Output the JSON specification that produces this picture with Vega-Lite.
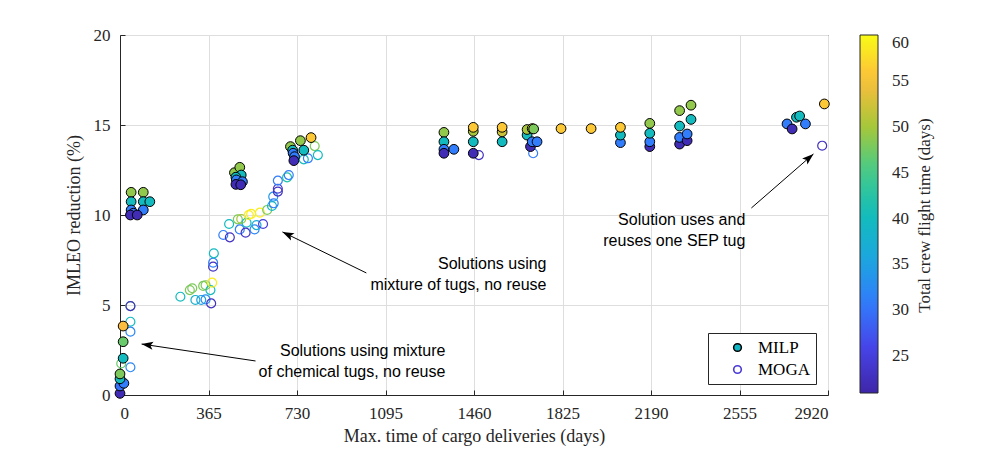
{
  "$schema": "https://vega.github.io/schema/vega-lite/v6.json",
  "width": 708,
  "height": 360,
  "autosize": "none",
  "padding": {"left": 120, "top": 35, "right": 172, "bottom": 55},
  "background": "white",
  "datasets": {
    "pts": [
      {"method": "MOGA", "days": 43, "imleo": 4.94, "crew": 47},
      {"method": "MOGA", "days": 43, "imleo": 4.94, "crew": 23},
      {"method": "MOGA", "days": 43, "imleo": 4.07, "crew": 40},
      {"method": "MOGA", "days": 43, "imleo": 3.52, "crew": 32},
      {"method": "MOGA", "days": 43, "imleo": 1.54, "crew": 32},
      {"method": "MOGA", "days": 5, "imleo": 1.75, "crew": 47},
      {"method": "MOGA", "days": 249, "imleo": 5.46, "crew": 40},
      {"method": "MOGA", "days": 288, "imleo": 5.83, "crew": 48},
      {"method": "MOGA", "days": 298, "imleo": 5.93, "crew": 48},
      {"method": "MOGA", "days": 343, "imleo": 6.06, "crew": 48},
      {"method": "MOGA", "days": 353, "imleo": 6.1, "crew": 48},
      {"method": "MOGA", "days": 311, "imleo": 5.28, "crew": 38},
      {"method": "MOGA", "days": 335, "imleo": 5.28, "crew": 35},
      {"method": "MOGA", "days": 353, "imleo": 5.31, "crew": 33},
      {"method": "MOGA", "days": 376, "imleo": 5.09, "crew": 23},
      {"method": "MOGA", "days": 373, "imleo": 5.83, "crew": 40},
      {"method": "MOGA", "days": 380, "imleo": 6.24, "crew": 59},
      {"method": "MOGA", "days": 384, "imleo": 7.13, "crew": 23},
      {"method": "MOGA", "days": 384, "imleo": 7.35, "crew": 31},
      {"method": "MOGA", "days": 387, "imleo": 7.87, "crew": 40},
      {"method": "MOGA", "days": 426, "imleo": 8.89, "crew": 31},
      {"method": "MOGA", "days": 453, "imleo": 8.76, "crew": 23},
      {"method": "MOGA", "days": 450, "imleo": 9.5, "crew": 40},
      {"method": "MOGA", "days": 486, "imleo": 9.76, "crew": 48},
      {"method": "MOGA", "days": 500, "imleo": 9.78, "crew": 50},
      {"method": "MOGA", "days": 494, "imleo": 9.2, "crew": 31},
      {"method": "MOGA", "days": 522, "imleo": 9.57, "crew": 40},
      {"method": "MOGA", "days": 518, "imleo": 9.02, "crew": 23},
      {"method": "MOGA", "days": 531, "imleo": 10.0, "crew": 59},
      {"method": "MOGA", "days": 541, "imleo": 10.06, "crew": 59},
      {"method": "MOGA", "days": 555, "imleo": 9.2, "crew": 32},
      {"method": "MOGA", "days": 563, "imleo": 9.44, "crew": 37},
      {"method": "MOGA", "days": 590, "imleo": 9.5, "crew": 25},
      {"method": "MOGA", "days": 577, "imleo": 10.13, "crew": 59},
      {"method": "MOGA", "days": 607, "imleo": 10.28, "crew": 48},
      {"method": "MOGA", "days": 627, "imleo": 10.5, "crew": 40},
      {"method": "MOGA", "days": 634, "imleo": 10.65, "crew": 31},
      {"method": "MOGA", "days": 632, "imleo": 11.02, "crew": 34},
      {"method": "MOGA", "days": 651, "imleo": 11.3, "crew": 23},
      {"method": "MOGA", "days": 651, "imleo": 11.46, "crew": 24},
      {"method": "MOGA", "days": 651, "imleo": 11.91, "crew": 31},
      {"method": "MOGA", "days": 689, "imleo": 12.09, "crew": 42},
      {"method": "MOGA", "days": 696, "imleo": 12.22, "crew": 31},
      {"method": "MOGA", "days": 803, "imleo": 13.83, "crew": 48},
      {"method": "MOGA", "days": 816, "imleo": 13.33, "crew": 40},
      {"method": "MOGA", "days": 758, "imleo": 13.09, "crew": 40},
      {"method": "MOGA", "days": 775, "imleo": 13.15, "crew": 31},
      {"method": "MOGA", "days": 1480, "imleo": 13.33, "crew": 23},
      {"method": "MOGA", "days": 1704, "imleo": 13.43, "crew": 31},
      {"method": "MOGA", "days": 2896, "imleo": 13.85, "crew": 23},
      {"method": "MILP", "days": 0, "imleo": 0.09, "crew": 22},
      {"method": "MILP", "days": 0, "imleo": 0.5, "crew": 30},
      {"method": "MILP", "days": 16, "imleo": 0.65, "crew": 31},
      {"method": "MILP", "days": 0, "imleo": 0.9, "crew": 40},
      {"method": "MILP", "days": 0, "imleo": 1.17, "crew": 48},
      {"method": "MILP", "days": 13, "imleo": 2.04, "crew": 40},
      {"method": "MILP", "days": 13, "imleo": 2.96, "crew": 47},
      {"method": "MILP", "days": 13, "imleo": 3.83, "crew": 55},
      {"method": "MILP", "days": 46, "imleo": 11.26, "crew": 49},
      {"method": "MILP", "days": 96, "imleo": 11.26, "crew": 49},
      {"method": "MILP", "days": 46, "imleo": 10.74, "crew": 40},
      {"method": "MILP", "days": 96, "imleo": 10.74, "crew": 40},
      {"method": "MILP", "days": 123, "imleo": 10.74, "crew": 40},
      {"method": "MILP", "days": 46, "imleo": 10.28, "crew": 31},
      {"method": "MILP", "days": 96, "imleo": 10.28, "crew": 31},
      {"method": "MILP", "days": 55, "imleo": 10.1, "crew": 30},
      {"method": "MILP", "days": 43, "imleo": 10.0, "crew": 22},
      {"method": "MILP", "days": 71, "imleo": 10.0, "crew": 22},
      {"method": "MILP", "days": 472, "imleo": 12.35, "crew": 49},
      {"method": "MILP", "days": 494, "imleo": 12.65, "crew": 49},
      {"method": "MILP", "days": 500, "imleo": 12.22, "crew": 40},
      {"method": "MILP", "days": 478, "imleo": 12.1, "crew": 40},
      {"method": "MILP", "days": 480, "imleo": 11.95, "crew": 31},
      {"method": "MILP", "days": 505, "imleo": 11.85, "crew": 31},
      {"method": "MILP", "days": 478, "imleo": 11.7, "crew": 22},
      {"method": "MILP", "days": 498, "imleo": 11.68, "crew": 22},
      {"method": "MILP", "days": 703, "imleo": 13.8, "crew": 49},
      {"method": "MILP", "days": 744, "imleo": 14.13, "crew": 49},
      {"method": "MILP", "days": 788, "imleo": 14.3, "crew": 56},
      {"method": "MILP", "days": 758, "imleo": 13.6, "crew": 40},
      {"method": "MILP", "days": 712, "imleo": 13.6, "crew": 40},
      {"method": "MILP", "days": 714, "imleo": 13.43, "crew": 31},
      {"method": "MILP", "days": 720, "imleo": 13.24, "crew": 31},
      {"method": "MILP", "days": 717, "imleo": 13.02, "crew": 22},
      {"method": "MILP", "days": 1336, "imleo": 14.59, "crew": 49},
      {"method": "MILP", "days": 1336, "imleo": 14.07, "crew": 40},
      {"method": "MILP", "days": 1336, "imleo": 13.65, "crew": 31},
      {"method": "MILP", "days": 1336, "imleo": 13.43, "crew": 22},
      {"method": "MILP", "days": 1377, "imleo": 13.65, "crew": 31},
      {"method": "MILP", "days": 1457, "imleo": 14.65, "crew": 50},
      {"method": "MILP", "days": 1457, "imleo": 14.87, "crew": 56},
      {"method": "MILP", "days": 1457, "imleo": 14.07, "crew": 40},
      {"method": "MILP", "days": 1457, "imleo": 13.43, "crew": 22},
      {"method": "MILP", "days": 1576, "imleo": 14.62, "crew": 52},
      {"method": "MILP", "days": 1576, "imleo": 14.87, "crew": 56},
      {"method": "MILP", "days": 1576, "imleo": 14.07, "crew": 40},
      {"method": "MILP", "days": 1679, "imleo": 14.44, "crew": 40},
      {"method": "MILP", "days": 1679, "imleo": 14.75, "crew": 50},
      {"method": "MILP", "days": 1700, "imleo": 14.8, "crew": 53},
      {"method": "MILP", "days": 1706, "imleo": 14.78, "crew": 48},
      {"method": "MILP", "days": 1693, "imleo": 13.8, "crew": 22},
      {"method": "MILP", "days": 1700, "imleo": 14.07, "crew": 31},
      {"method": "MILP", "days": 1720, "imleo": 14.07, "crew": 31},
      {"method": "MILP", "days": 1819, "imleo": 14.8, "crew": 56},
      {"method": "MILP", "days": 1943, "imleo": 14.8, "crew": 56},
      {"method": "MILP", "days": 2064, "imleo": 14.02, "crew": 31},
      {"method": "MILP", "days": 2064, "imleo": 14.44, "crew": 40},
      {"method": "MILP", "days": 2064, "imleo": 14.87, "crew": 56},
      {"method": "MILP", "days": 2185, "imleo": 13.8, "crew": 22},
      {"method": "MILP", "days": 2185, "imleo": 14.07, "crew": 31},
      {"method": "MILP", "days": 2185, "imleo": 14.54, "crew": 40},
      {"method": "MILP", "days": 2185, "imleo": 15.09, "crew": 49},
      {"method": "MILP", "days": 2308, "imleo": 13.94, "crew": 22},
      {"method": "MILP", "days": 2308, "imleo": 14.31, "crew": 31},
      {"method": "MILP", "days": 2308, "imleo": 14.94, "crew": 40},
      {"method": "MILP", "days": 2308, "imleo": 15.8, "crew": 49},
      {"method": "MILP", "days": 2339, "imleo": 14.13, "crew": 22},
      {"method": "MILP", "days": 2339, "imleo": 14.5, "crew": 31},
      {"method": "MILP", "days": 2355, "imleo": 15.31, "crew": 40},
      {"method": "MILP", "days": 2355, "imleo": 16.1, "crew": 49},
      {"method": "MILP", "days": 2751, "imleo": 15.06, "crew": 31},
      {"method": "MILP", "days": 2772, "imleo": 14.78, "crew": 22},
      {"method": "MILP", "days": 2790, "imleo": 15.43, "crew": 40},
      {"method": "MILP", "days": 2803, "imleo": 15.5, "crew": 40},
      {"method": "MILP", "days": 2827, "imleo": 15.06, "crew": 31},
      {"method": "MILP", "days": 2905, "imleo": 16.17, "crew": 56}
    ],
    "keys": [
      {"method": "MILP", "days": 2500, "imleo": 3},
      {"method": "MOGA", "days": 2500, "imleo": 2}
    ],
    "notes": [
      {"x": 1342, "y": 2.17, "label": "Solutions using mixture\nof chemical tugs, no reuse"},
      {"x": 1759, "y": 7.0, "label": "Solutions using\nmixture of tugs, no reuse"},
      {"x": 2579, "y": 9.44, "label": "Solution uses and\nreuses one SEP tug"}
    ],
    "arrows": [
      {"tx": 559, "ty": 1.89, "hx": 89, "hy": 2.83, "angle": 278.5},
      {"tx": 1016, "ty": 6.78, "hx": 670, "hy": 9.06, "angle": 296},
      {"tx": 2604, "ty": 10.39, "hx": 2860, "hy": 13.39, "angle": 49}
    ]
  },
  "layer": [
    {
      "layer": [
        {
          "data": {"name": "pts"},
          "transform": [{"filter": "datum.method === 'MOGA'"}],
          "mark": {"type": "point", "filled": false, "strokeWidth": 1.2, "size": 80, "opacity": 1},
          "encoding": {
            "x": {"field": "days", "type": "quantitative", "scale": {"domain": [0, 2920], "nice": false, "zero": false},
              "axis": {"values": [0, 365, 730, 1095, 1460, 1825, 2190, 2555, 2920], "format": "d", "title": "Max. time of cargo deliveries (days)", "titlePadding": 6}},
            "y": {"field": "imleo", "type": "quantitative", "scale": {"domain": [0, 20], "nice": false, "zero": false},
              "axis": {"values": [0, 5, 10, 15, 20], "title": "IMLEO reduction (%)", "titlePadding": 10}},
            "color": {"field": "crew", "type": "quantitative", "legend": null,
              "scale": {"domain": [20.999, 60], "interpolate": "rgb", "range": ["#3E26A8", "#4743E7", "#327BFC", "#1CA6DF", "#12BDBA", "#48CB86", "#ABC737", "#FDBD3D", "#F9FB15"]}}
          }
        },
        {
          "data": {"name": "pts"},
          "transform": [{"filter": "datum.method === 'MILP'"}],
          "mark": {"type": "point", "filled": true, "stroke": "#000000", "strokeWidth": 1, "size": 95, "opacity": 1},
          "encoding": {
            "x": {"field": "days", "type": "quantitative"},
            "y": {"field": "imleo", "type": "quantitative"},
            "fill": {"field": "crew", "type": "quantitative",
              "scale": {"domain": [21, 60], "interpolate": "rgb", "range": ["#3E26A8", "#4743E7", "#327BFC", "#1CA6DF", "#12BDBA", "#48CB86", "#ABC737", "#FDBD3D", "#F9FB15"]},
              "legend": {
                "type": "gradient", "direction": "vertical", "orient": "none", "legendX": 740, "legendY": 0,
                "gradientLength": 358, "gradientThickness": 18,
                "gradientStrokeColor": "#262626", "gradientStrokeWidth": 1,
                "values": [25, 30, 35, 40, 45, 50, 55, 60],
                "labelFont": "Liberation Serif", "labelFontSize": 17, "labelColor": "#262626", "labelOffset": 14,
                "labelBaseline": "middle",
                "title": null
              }}
          }
        },
        {
          "data": {"name": "arrows"},
          "mark": {"type": "rule", "color": "#000000", "strokeWidth": 1},
          "encoding": {
            "x": {"field": "tx", "type": "quantitative"},
            "y": {"field": "ty", "type": "quantitative"},
            "x2": {"field": "hx"},
            "y2": {"field": "hy"}
          }
        },
        {
          "data": {"name": "arrows"},
          "mark": {"type": "point", "shape": "M0,0 L0.4,1.15 L0,0.9 L-0.4,1.15 Z", "filled": true, "color": "#000000", "size": 400, "opacity": 1},
          "encoding": {
            "x": {"field": "hx", "type": "quantitative"},
            "y": {"field": "hy", "type": "quantitative"},
            "angle": {"field": "angle", "type": "quantitative", "scale": null}
          }
        },
        {
          "data": {"name": "notes"},
          "mark": {"type": "text", "align": "right", "baseline": "alphabetic", "lineBreak": "\n", "lineHeight": 21, "font": "Liberation Sans", "fontSize": 16, "color": "#000000"},
          "encoding": {
            "x": {"field": "x", "type": "quantitative"},
            "y": {"field": "y", "type": "quantitative"},
            "text": {"field": "label"}
          }
        }
      ]
    },
    {
      "data": {"name": "keys"},
      "mark": {"type": "point", "filled": true, "fill": "#10B6C4", "strokeWidth": 1, "size": 60, "opacity": 0},
      "encoding": {
        "x": {"field": "days", "type": "quantitative"},
        "y": {"field": "imleo", "type": "quantitative",
          "scale": {"domain": [0, 20], "nice": false, "zero": false},
          "axis": {"orient": "right", "title": "Total crew flight time (days)", "labels": false, "ticks": false, "domain": false, "grid": false,
            "titleAngle": -90, "titleBaseline": "middle", "titleAlign": "center", "titlePadding": 96, "titleFontSize": 17}},
        "shape": {"field": "method", "type": "nominal",
          "scale": {"domain": ["MILP", "MOGA"], "range": ["circle", "M-1,0 A1,1 0 1,0 1,0 A1,1 0 1,0 -1,0 Z M-0.97,0 A0.97,0.97 0 1,1 0.97,0 A0.97,0.97 0 1,1 -0.97,0 Z"]},
          "legend": {
            "orient": "none", "legendX": 588, "legendY": 298, "title": null,
            "strokeColor": "#262626", "fillColor": "#ffffff", "padding": 6,
            "symbolOffset": 15, "symbolSize": 60, "labelOffset": 12, "rowPadding": 4, "symbolOpacity": 1,
            "labelFont": "Liberation Serif", "labelFontSize": 17, "labelColor": "#000000",
            "labelExpr": "datum.label + '\u00a0\u00a0\u00a0\u00a0\u00a0\u00a0'"
          }},
        "stroke": {"field": "method", "type": "nominal",
          "scale": {"domain": ["MILP", "MOGA"], "range": ["#000000", "#4A3BD6"]},
          "legend": {"title": null}}
      }
    }
  ],
  "resolve": {"scale": {"y": "independent"}, "axis": {"y": "independent"}},
  "config": {
    "view": {"stroke": "#262626", "strokeWidth": 1},
    "axis": {
      "domainColor": "#262626", "tickColor": "#262626", "gridColor": "#DEDEDE", "grid": true,
      "labelFont": "Liberation Serif", "labelFontSize": 17, "labelColor": "#262626",
      "titleFont": "Liberation Serif", "titleFontSize": 18, "titleFontWeight": "normal", "titleColor": "#262626",
      "tickSize": -5, "labelPadding": 15
    }
  }
}
